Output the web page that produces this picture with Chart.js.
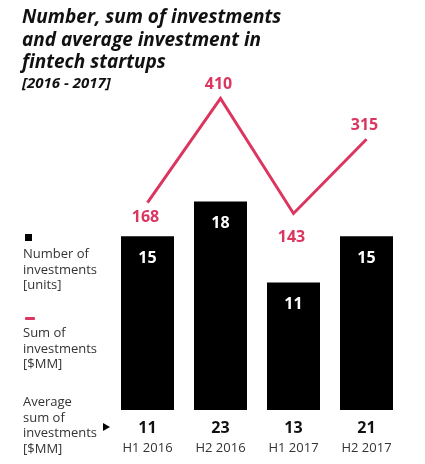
<!DOCTYPE html>
<html>
<head>
<meta charset="utf-8">
<script src="https://cdn.jsdelivr.net/npm/chart.js@4/dist/chart.umd.min.js"></script>
<style>
  body { margin:0; background:#fff; font-family:"Open Sans", sans-serif; }
  #wrap { position:relative; width:425px; height:464px; }
  #title { position:absolute; left:22px; top:5px; font-weight:bold; font-style:italic; font-size:19px; line-height:22.5px; color:#111; }
  #sub { position:absolute; left:22px; top:72px; font-weight:bold; font-style:italic; font-size:15px; color:#111; }
  .leg { position:absolute; left:23px; font-size:13px; line-height:15.5px; color:#333; }
  canvas { position:absolute; left:0; top:0; }
</style>
</head>
<body>
<div id="wrap">
  <canvas id="canvasFintech" width="425" height="464"></canvas>
  <div id="title">Number, sum of investments<br>and average investment in<br>fintech startups</div>
  <div id="sub">[2016 - 2017]</div>
  <div style="position:absolute;left:25px;top:234px;width:7px;height:7px;background:#000"></div>
  <div class="leg" style="top:246px">Number of<br>investments<br>[units]</div>
  <div style="position:absolute;left:25px;top:317px;width:10px;height:3px;background:#dc3560;border-radius:1px"></div>
  <div class="leg" style="top:325px">Sum of<br>investments<br>[$MM]</div>
  <div class="leg" style="top:394px">Average<br>sum of<br>investments<br>[$MM]</div>
</div>
<script>
var periodos = ['H1 2016', 'H2 2016', 'H1 2017', 'H2 2017'];
var numInversiones = [15, 18, 11, 15];
var sumaInversiones = [168, 410, 143, 315];
var promedioInversiones = [11, 23, 13, 21];

var rosa = '#dc3560';
// desplazamiento vertical de cada etiqueta de la linea
var despEtiquetaSuma = [15, -14, 24, -14];

// dibujar etiquetas de valores y fila inferior
var etiquetas = {
  id: 'etiquetas',
  afterDatasetsDraw: function(chart){
    var ctx = chart.ctx;
    var xs = chart.scales.x;
    ctx.save();
    ctx.textAlign = 'center';
    ctx.textBaseline = 'middle';
    // barras
    chart.getDatasetMeta(1).data.forEach(function(bar, i){
      ctx.fillStyle = '#fff';
      ctx.font = 'bold 16px "Open Sans"';
      ctx.fillText(numInversiones[i], bar.x, bar.y + 22);
    });
    // linea
    chart.getDatasetMeta(0).data.forEach(function(pt, i){
      ctx.fillStyle = rosa;
      ctx.font = 'bold 16px "Open Sans"';
      ctx.fillText(sumaInversiones[i], pt.x - 2, pt.y + despEtiquetaSuma[i]);
    });
    // fila inferior
    periodos.forEach(function(p, i){
      var x = xs.getPixelForValue(i);
      ctx.fillStyle = '#111';
      ctx.font = 'bold 16px "Open Sans"';
      ctx.fillText(promedioInversiones[i], x, 428);
      ctx.fillStyle = '#333';
      ctx.font = '13px "Open Sans"';
      ctx.fillText(p, x, 448);
    });
    // triangulo
    ctx.fillStyle = '#000';
    ctx.beginPath();
    ctx.moveTo(103, 423);
    ctx.lineTo(110, 427);
    ctx.lineTo(103, 431);
    ctx.closePath();
    ctx.fill();
    ctx.restore();
  }
};

var ctx = document.getElementById('canvasFintech').getContext('2d');
window.myChart = new Chart(ctx, {
  type: 'bar',
  data: {
    labels: periodos,
    datasets: [{
      type: 'line',
      label: 'Sum of investments [$MM]',
      data: sumaInversiones,
      borderColor: rosa,
      borderWidth: 3,
      pointRadius: 0,
      tension: 0,
      yAxisID: 'y2',
      order: 0
    }, {
      label: 'Number of investments [units]',
      data: numInversiones,
      backgroundColor: '#000',
      categoryPercentage: 1,
      barPercentage: 0.726,
      yAxisID: 'y',
      order: 1
    }]
  },
  plugins: [etiquetas],
  options: {
    responsive: false,
    animation: false,
    layout: { padding: { left: 111, right: 22, top: 60, bottom: 54 } },
    plugins: { legend: { display: false }, tooltip: { enabled: false } },
    scales: {
      x: { display: false },
      y: { display: false, min: 0, max: 30.2 },
      y2: { display: false, min: -313, max: 499 }
    }
  }
});
</script>
</body>
</html>
